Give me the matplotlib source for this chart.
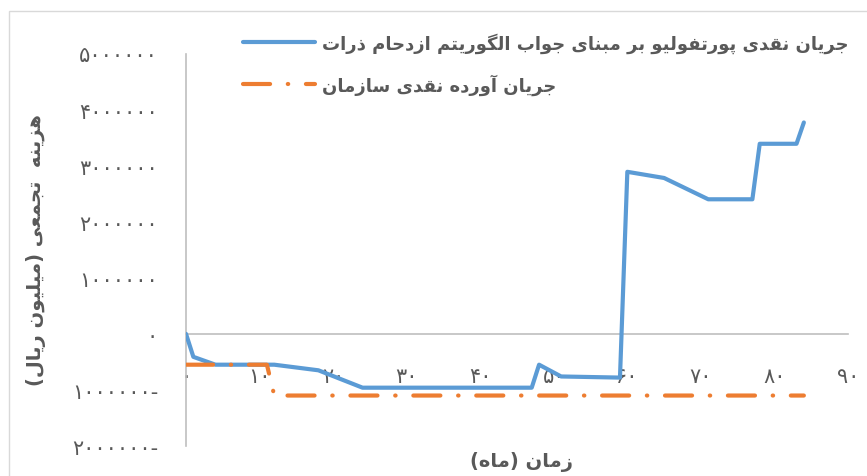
import matplotlib
matplotlib.use("Agg")
import matplotlib.pyplot as plt
from matplotlib.lines import Line2D
from matplotlib.patches import Rectangle

# ============================================================
# DATA
# ============================================================

MONTHS_PSO = [0, 1, 4, 12, 18, 24, 47, 48, 51, 59, 60, 65, 71, 77, 78, 83, 84]
COST_PSO = [0, -410000, -550000, -550000, -650000, -960000, -960000, -550000,
            -760000, -780000, 2890000, 2780000, 2400000, 2400000, 3390000,
            3390000, 3770000]

MONTHS_ORG = [0, 11, 12, 84]
COST_ORG = [-550000, -550000, -1100000, -1100000]

X_TICKS = list(range(0, 91, 10))
Y_TICKS = list(range(-2000000, 5000001, 1000000))

LEGEND_PSO = "جریان نقدی پورتفولیو بر مبنای جواب الگوریتم ازدحام ذرات"
LEGEND_ORG = "جریان آورده نقدی سازمان"
X_TITLE = "زمان (ماه)"
Y_TITLE = "هزینه  تجمعی (میلیون ریال)"

BLUE = "#5B9BD5"
ORANGE = "#ED7D31"
TEXT = "#595959"
AXIS = "#BFBFBF"
DASH_DOT = (0, (6.5, 4.25, 0.1, 4.25))

# ============================================================
# PERSIAN TEXT HELPERS (matplotlib has no shaping / bidi)
# ============================================================

# isolated, final, initial, medial
FORMS = {
    "\u0622": ("\uFE81", "\uFE82", None, None),
    "\u0627": ("\uFE8D", "\uFE8E", None, None),
    "\u0628": ("\uFE8F", "\uFE90", "\uFE91", "\uFE92"),
    "\u062A": ("\uFE95", "\uFE96", "\uFE97", "\uFE98"),
    "\u062C": ("\uFE9D", "\uFE9E", "\uFE9F", "\uFEA0"),
    "\u062D": ("\uFEA1", "\uFEA2", "\uFEA3", "\uFEA4"),
    "\u062F": ("\uFEA9", "\uFEAA", None, None),
    "\u0630": ("\uFEAB", "\uFEAC", None, None),
    "\u0631": ("\uFEAD", "\uFEAE", None, None),
    "\u0632": ("\uFEAF", "\uFEB0", None, None),
    "\u0633": ("\uFEB1", "\uFEB2", "\uFEB3", "\uFEB4"),
    "\u0639": ("\uFEC9", "\uFECA", "\uFECB", "\uFECC"),
    "\u0641": ("\uFED1", "\uFED2", "\uFED3", "\uFED4"),
    "\u0642": ("\uFED5", "\uFED6", "\uFED7", "\uFED8"),
    "\u0644": ("\uFEDD", "\uFEDE", "\uFEDF", "\uFEE0"),
    "\u0645": ("\uFEE1", "\uFEE2", "\uFEE3", "\uFEE4"),
    "\u0646": ("\uFEE5", "\uFEE6", "\uFEE7", "\uFEE8"),
    "\u0647": ("\uFEE9", "\uFEEA", "\uFEEB", "\uFEEC"),
    "\u0648": ("\uFEED", "\uFEEE", None, None),
    "\u067E": ("\uFB56", "\uFB57", "\uFB58", "\uFB59"),
    "\u06A9": ("\uFB8E", "\uFB8F", "\uFB90", "\uFB91"),
    "\u06AF": ("\uFB92", "\uFB93", "\uFB94", "\uFB95"),
    "\u06CC": ("\uFBFC", "\uFBFD", "\uFBFE", "\uFBFF"),
}

FA_DIGITS = str.maketrans("0123456789", "۰۱۲۳۴۵۶۷۸۹")


def fa(text):
    out = []
    for i, ch in enumerate(text):
        if ch not in FORMS:
            out.append(ch)
            continue
        iso, fin, ini, med = FORMS[ch]
        prev = text[i - 1] if i > 0 else ""
        nxt = text[i + 1] if i + 1 < len(text) else ""
        join_prev = prev in FORMS and FORMS[prev][2] is not None
        join_next = ini is not None and nxt in FORMS
        if join_prev and join_next:
            out.append(med)
        elif join_prev:
            out.append(fin)
        elif join_next:
            out.append(ini)
        else:
            out.append(iso)
    visual = "".join(out)[::-1]
    return visual.translate(str.maketrans("()", ")("))


def fa_num(v):
    s = str(abs(int(v))).translate(FA_DIGITS)
    return s + "-" if v < 0 else s


# ============================================================
# FIGURE
# ============================================================

plt.rcParams["font.family"] = ["DejaVu Sans"]

W, H = 867, 477
fig = plt.figure(figsize=(W / 100, H / 100), dpi=100)

# chart border
fig.add_artist(Rectangle((9 / W, -0.1), 2, 1 - 12 / H + 0.1, transform=fig.transFigure,
                         fill=False, edgecolor="#D9D9D9", linewidth=1))

ax = fig.add_axes([186 / W, 1 - 447 / H, 662 / W, (447 - 54.5) / H])

ax.plot(MONTHS_PSO, COST_PSO, color=BLUE, linewidth=3.0,
        solid_joinstyle="round", solid_capstyle="round", zorder=3)
ax.plot(MONTHS_ORG, COST_ORG, color=ORANGE, linewidth=3.0,
        linestyle=DASH_DOT, dash_capstyle="round", zorder=4)

ax.set_xlim(0, 90)
ax.set_ylim(-2000000, 5000000)

for side in ["top", "right"]:
    ax.spines[side].set_visible(False)
ax.spines["bottom"].set_position(("data", 0))
ax.spines["bottom"].set_color(AXIS)
ax.spines["left"].set_color(AXIS)
ax.spines["bottom"].set_linewidth(1.2)
ax.spines["left"].set_linewidth(1.2)

ax.set_xticks(X_TICKS)
ax.set_xticklabels([fa_num(v) for v in X_TICKS])
ax.set_yticks(Y_TICKS)
ax.set_yticklabels([fa_num(v) for v in Y_TICKS])
ax.tick_params(axis="x", length=0, pad=23, labelsize=15, labelcolor=TEXT)
ax.tick_params(axis="y", length=0, pad=20, labelsize=15, labelcolor=TEXT)

fig.text(521 / W, 1 - 462 / H, fa(X_TITLE), ha="center", va="center",
         fontsize=14, fontweight="bold", color=TEXT)
fig.text(36 / W, 1 - 250 / H, fa(Y_TITLE), ha="center", va="center", rotation=90,
         fontsize=14, fontweight="bold", color=TEXT)

handles = [
    Line2D([], [], color=BLUE, linewidth=3.0, solid_capstyle="round"),
    Line2D([], [], color=ORANGE, linewidth=3.0, linestyle=DASH_DOT,
           dash_capstyle="round"),
]
leg = fig.legend(handles, [fa(LEGEND_PSO), fa(LEGEND_ORG)], loc="upper left",
                 bbox_to_anchor=(243 / W, 1 - 33 / H), frameon=False,
                 prop={"size": 13, "weight": "bold"}, handlelength=4.0,
                 handletextpad=0.4, labelspacing=1.15, borderpad=0, borderaxespad=0)
for t in leg.get_texts():
    t.set_color(TEXT)

fig.savefig("out.png", dpi=100)
